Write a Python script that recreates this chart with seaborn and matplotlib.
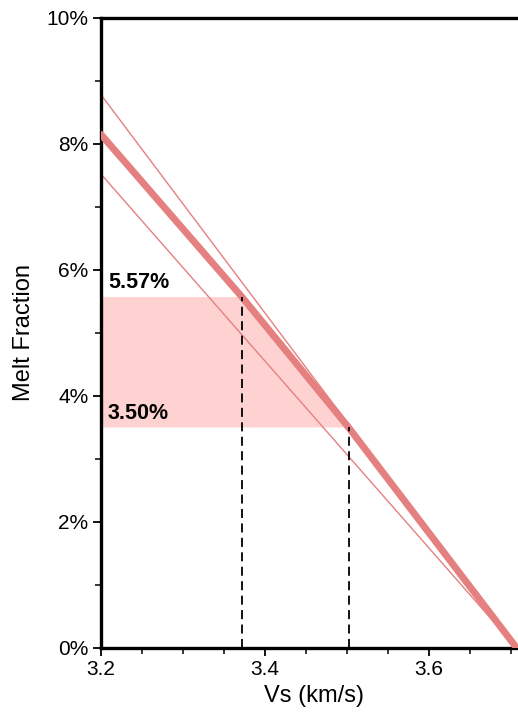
import numpy as np
import pandas as pd
import matplotlib
matplotlib.use('Agg')
import matplotlib.pyplot as plt
import seaborn as sns
from matplotlib.ticker import MultipleLocator, FuncFormatter

# values (melt fraction in %)
vs_best = [3.2, 3.372, 3.502, 3.707]
mf_best = [8.15, 5.57, 3.50, 0.0]
vs_upper = [3.2, 3.707]
mf_upper = [8.78, 0.0]
vs_lower = [3.2, 3.707]
mf_lower = [7.52, 0.0]

# range of Vs and the matching melt fraction
vs_range = [3.372, 3.502]
mf_range = [5.57, 3.50]

line_color = '#e58080'
fill_color = '#ffd2d2'

sns.set_style('ticks')
plt.rcParams['font.family'] = ['Liberation Sans', 'DejaVu Sans']
plt.rcParams.update({'text.color': 'black', 'axes.labelcolor': 'black',
                     'xtick.color': 'black', 'ytick.color': 'black',
                     'axes.edgecolor': 'black'})

fig = plt.figure(figsize=(5.18, 7.16), dpi=100)
ax = fig.add_axes([0.195, 0.095, 0.823, 0.880])

# shaded melt range, bounded on the right by the best-fit line
poly_x = [vs_best[0], vs_best[0], vs_range[0], vs_range[1]]
poly_y = [mf_range[1], mf_range[0], mf_range[0], mf_range[1]]
ax.fill(poly_x, poly_y, color=fill_color, lw=0, zorder=1)

bounds = pd.DataFrame({'vs': vs_upper + vs_lower,
                       'mf': mf_upper + mf_lower,
                       'which': ['upper'] * 2 + ['lower'] * 2})
sns.lineplot(data=bounds, x='vs', y='mf', units='which', estimator=None,
             color=line_color, lw=1.0, ax=ax, zorder=2)
sns.lineplot(x=vs_best, y=mf_best, color=line_color, lw=5.0, ax=ax, zorder=3)

for v, m in zip(vs_range, mf_range):
    ax.plot([v, v], [0, m], color='black', lw=1.3, ls=(0, (5, 3)), zorder=4)

for m in mf_range:
    ax.text(3.2085, m + 0.06, f'{m:.2f}%', fontsize=15.5, fontweight='bold',
            ha='left', va='bottom', zorder=5)

ax.set_xlim(3.2, 3.72)
ax.set_ylim(0, 10)
ax.xaxis.set_major_locator(MultipleLocator(0.2))
ax.xaxis.set_minor_locator(MultipleLocator(0.05))
ax.yaxis.set_major_locator(MultipleLocator(2))
ax.yaxis.set_minor_locator(MultipleLocator(1))
ax.xaxis.set_major_formatter(FuncFormatter(lambda v, p: f'{v:.1f}'))
ax.yaxis.set_major_formatter(FuncFormatter(lambda v, p: f'{v:.0f}%'))
ax.tick_params(which='major', length=6, width=1.3, labelsize=15, direction='out', pad=3)
ax.tick_params(which='minor', length=4, width=1.1, direction='out')

for s in ['left', 'bottom', 'top']:
    ax.spines[s].set_linewidth(2.4)
ax.spines['right'].set_visible(False)

ax.set_xlabel('Vs (km/s)', fontsize=17, labelpad=4)
ax.set_ylabel('Melt Fraction', fontsize=17, labelpad=8)

fig.savefig('out.png', dpi=100)
